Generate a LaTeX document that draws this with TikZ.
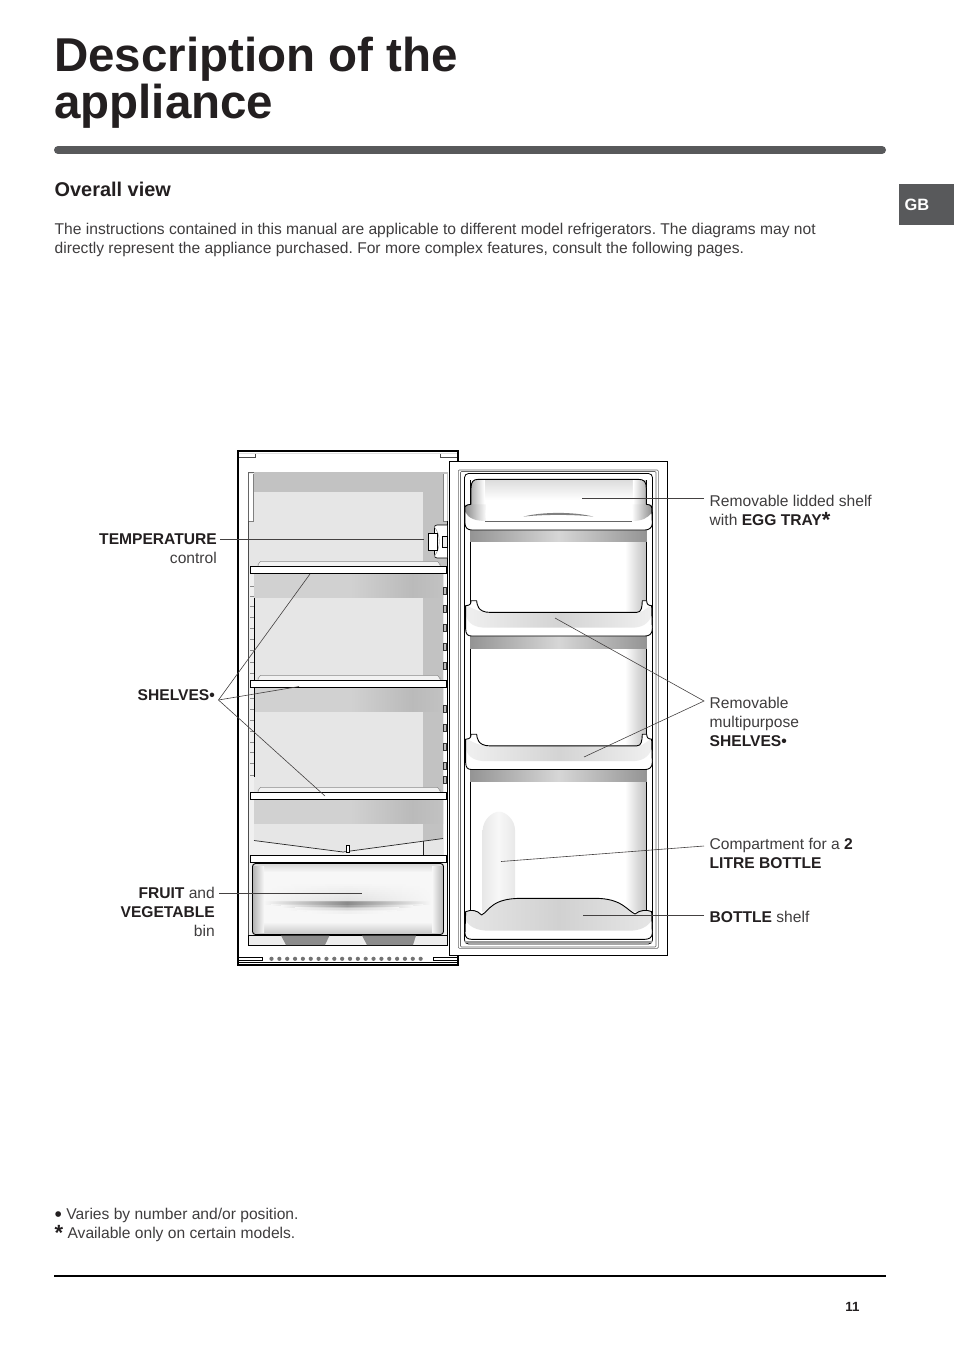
\documentclass[tikz,border=0pt]{standalone}
\usepackage{fontspec}
\setmainfont{Liberation Sans}
\definecolor{ink}{HTML}{231F20}
\definecolor{soft}{HTML}{3F3D3E}
\definecolor{bar}{HTML}{58595B}
\definecolor{wallA}{HTML}{E6E6E6}
\definecolor{wallB}{HTML}{C2C2C2}
\tikzset{
  x=1pt,y=-1pt,
  body/.style={font=\frenchspacing\fontsize{15.6}{19}\selectfont,text=soft,inner sep=0pt,align=left,anchor=north west},
  bodyr/.style={font=\fontsize{15.6}{19}\selectfont,text=soft,inner sep=0pt,align=right,anchor=north east},
  leader/.style={draw=ink!85,line width=0.6pt},
  shelfbar/.style={draw=black,line width=0.8pt,fill=white},
}
\newcommand{\lb}[1]{{\color{ink}\bfseries #1}}
\newcommand{\stk}{{\color{ink}\bfseries\raisebox{-2.2pt}{\fontsize{22}{22}\selectfont *}}}
% shelf of the cabinet: y of the top edge
\newcommand{\cabshelf}[1]{%
  \fill[wallA] (254,#1) rectangle (423,#1+114);
  \fill[wallB] (423,#1) rectangle (443,#1+114);
  \fill[black!18] (254,#1+7) rectangle (350,#1+31.5);
  \shade[left color=black!18,right color=black!27] (350,#1+7) rectangle (412,#1+31.5);
  \shade[left color=black!27,right color=black!24] (412,#1+7) rectangle (443,#1+31.5);
  \draw[black!45,fill=black!5,line width=0.5pt] (258,#1+0.3) -- (258,#1-2) to[out=-90,in=180] (261,#1-5) -- (437,#1-5) to[out=0,in=-90] (440,#1-2) -- (440,#1+0.3);
  \draw[shelfbar] (250.5,#1) rectangle (446.7,#1+7);
}
\newcommand{\shelfsil}{(62,15) .. controls (75,14) and (78,10) .. (78,0) -- (95,0) .. controls (96,10) and (97,35) .. (135,35) -- (575,35) .. controls (590,35) and (591,20) .. (592,0) -- (605,0) .. controls (606,10) and (608,14) .. (620,15) -- (622,85) .. controls (622,100) and (612,106) .. (600,106) -- (80,106) .. controls (68,106) and (62,100) .. (62,85) -- cycle}
\newcommand{\doorshelf}[1]{%
  \begin{scope}[shift={(445,#1)},x=0.3333pt,y=-0.3333pt]
   \shade[left color=black!42,right color=black!42,middle color=black!16] (75,106) rectangle (606,142);
   \fill[white] \shelfsil;
   \shade[left color=black!6,right color=black!6,middle color=black!17] (63,16) .. controls (75,14) and (90,35) .. (135,35) -- (575,35) .. controls (600,35) and (610,14) .. (619,16) -- (620,45) .. controls (610,70) and (590,81) .. (560,81) -- (125,81) .. controls (90,81) and (70,70) .. (63,45) -- cycle;
   \draw[black,line width=0.9pt,line join=round] \shelfsil;
  \end{scope}}
\begin{document}
\begin{tikzpicture}
\useasboundingbox (0,0) rectangle (954,1350);
\fill[white] (0,0) rectangle (954,1350);
% header
\node[anchor=north west,inner sep=0pt,font=\fontsize{47.5}{47}\bfseries\selectfont,text=ink,align=left] (title) at (54,36.5) {Description of the\\appliance};
\draw[bar,line width=8pt,line cap=round] (58,150) coordinate (ruleA) -- (882,150) coordinate (ruleB);
\node[anchor=west,inner sep=0pt,font=\fontsize{19.9}{20}\bfseries\selectfont,text=ink] (ov) at (54.5,189) {Overall view};
\node[body] (intro) at (54.5,223.2) {The instructions contained in this manual are applicable to different model refrigerators. The diagrams may not\\directly represent the appliance purchased. For more complex features, consult the following pages.};
\fill[bar] (899,184) rectangle (954,225);
\node[font=\fontsize{16.4}{16}\bfseries\selectfont,text=white,inner sep=0pt] (gb) at (917,204.5) {GB};

% ---------- cabinet
\draw[black,line width=1.6pt,fill=white] (238,451) rectangle (458,965);
\fill[black!12] (239,452.5) rectangle (457,454);
\draw[black!70,line width=0.5pt] (239,457.5) -- (255.5,457.5) -- (255.5,454);
\draw[black!70,line width=0.5pt] (457,457.5) -- (440.5,457.5) -- (440.5,454);
\draw[black!60,line width=0.6pt,fill=black!8] (248.5,472) -- (447.5,472) -- (447.5,945) -- (248.5,945) -- cycle;
\fill[wallB] (254,472) rectangle (447.5,566);
\fill[wallA] (249,521) rectangle (423,566);
\fill[wallA] (254,492) rectangle (423,566);
\fill[white] (249,474) rectangle (253.5,521);
\draw[black!50,line width=0.4pt] (253.5,474) -- (253.5,521) -- (249,521);
\fill[white] (443,474) rectangle (447,521);
\draw[black!50,line width=0.4pt] (443,474) -- (443,521) -- (447,521);
\cabshelf{566.3}
\cabshelf{680.3}
\cabshelf{792.3}
\fill[black!6] (249,573) rectangle (254,855);
\fill[white] (443.5,573) rectangle (447,855);
\draw[black,line width=0.8pt] (254.2,598) -- (254.2,777);
\draw[black!70,line width=0.6pt] (248.5,521) -- (248.5,945);
\draw[black,line width=0.9pt] (447.6,521) -- (447.6,945);
\foreach \yy in {586,596,606,617,628,639,650,662,673,698,709,720,731,742,752,763,775}
  \draw[black!45,line width=0.5pt] (250,\yy) -- (254,\yy);
\foreach \yy in {587,605,624,643,662,705,724,743,762,776}
  \draw[black!80,fill=black!25,line width=0.5pt] (443.5,\yy) rectangle (446.5,\yy+7);
\draw[shelfbar] (250.5,566.3) rectangle (446.7,573.3);
\draw[shelfbar] (250.5,680.3) rectangle (446.7,687.3);
\draw[shelfbar] (250.5,792.3) rectangle (446.7,799.3);
% compartment above bin
\fill[wallB] (423,824) rectangle (443,855);
\fill[wallA] (254,824) rectangle (423,842);
\fill[white!94!black] (254,840.5) -- (343,852) -- (423,841) -- (423,855) -- (254,855) -- cycle;
\fill[wallA] (423,841) -- (443,838.5) -- (443,855) -- (423,855) -- cycle;
\draw[black!85,line width=0.7pt] (254,840.5) -- (343,852) -- (443,838.5);
\draw[black!85,line width=0.7pt] (423.5,841) -- (423.5,855);
\draw[black,line width=0.7pt,fill=white] (346.5,845.5) rectangle (349.8,852.5);
\draw[shelfbar] (250,855) rectangle (446.7,862.7);
% bin
\fill[black!6] (249,863) rectangle (447,935);
\begin{scope}
\clip[rounded corners=3pt] (252.5,863.5) rectangle (443.5,934.5);
\fill[black!3] (252,863) rectangle (444,935);
\shade[top color=black!16,bottom color=black!3] (252,863.5) rectangle (444,872);
\foreach \yy/\d in {884/4,886/5,888/6,890/7,892/8,894/9,896/10,898/11,900/12}
  \shade[left color=black!3,right color=black!3,middle color=black!\d] (262,\yy) rectangle (434,\yy+2.2);
\foreach \yy/\d/\w in {901/38/84,902.5/46/84,904/46/76,905.5/38/66,907/26/52,908.5/15/60,910/10/50,911.5/6/40}
  \shade[left color=black!3,right color=black!3,middle color=black!\d] (347-\w,\yy) rectangle (347+\w,\yy+1.6);
\shade[top color=black!3,bottom color=black!24] (252,922) rectangle (444,935);
\shade[left color=black!30,right color=black!3] (252.5,866) rectangle (264,932);
\shade[left color=black!3,right color=black!30] (432,866) rectangle (443.5,932);
\end{scope}
\draw[black,line width=0.9pt,rounded corners=3pt] (252.5,863.5) rectangle (443.5,934.5);
% feet
\draw[black,line width=0.8pt,fill=black!7] (248.5,935.5) rectangle (447.5,945);
\fill[black!45] (281,935.5) -- (329.5,935.5) -- (325,945) -- (286,945) -- cycle;
\fill[black!45] (362,935.5) -- (416,935.5) -- (413,945) -- (367,945) -- cycle;
% bottom grille
\foreach \i in {0,...,19} \fill[black!55] (271.5+\i*7.85,958.8) circle (2.1);
\draw[black,line width=0.8pt] (238,957.5) -- (262.5,957.5) -- (262.5,960.3) -- (238,960.3);
\draw[black,line width=0.8pt] (458,957.5) -- (433.5,957.5) -- (433.5,960.3) -- (458,960.3);
\draw[black,line width=0.8pt] (238,962.5) -- (458,962.5);
\draw[black,line width=1.6pt] (237.2,965) -- (458.8,965);
% temperature knob
\draw[black,line width=0.6pt,fill=white] (447,525) -- (437,525) .. controls (435,525) and (434.5,526) .. (434.5,528) -- (434.5,554) .. controls (434.5,557) and (435,558) .. (437,558) -- (447,558);
\draw[black!50,line width=0.4pt] (434,527) .. controls (441,533) and (441,550) .. (434,556);
\draw[black,line width=0.7pt,fill=white] (428.5,533.5) rectangle (437.5,550.5);
\draw[black,line width=0.5pt,fill=black!8] (442.5,536) rectangle (447,547);

% ---------- door
\draw[black,line width=0.9pt,fill=white] (449.3,461.7) rectangle (667.5,955.7);
\draw[black!60,line width=0.6pt,rounded corners=1pt] (458.3,470) rectangle (658.3,948.3);
\draw[black!60,line width=0.6pt,rounded corners=1pt] (460.5,471.5) rectangle (656,947);
\draw[black,line width=0.8pt,rounded corners=4pt] (464.5,473.5) rectangle (652.5,944);
\fill[white] (470.5,475) rectangle (646.5,938);
\shade[left color=white,right color=black!25] (625,480) rectangle (646.5,920);
\draw[black,line width=0.9pt] (470.4,480) -- (470.4,925);
\draw[black,line width=0.9pt] (646.6,480) -- (646.6,925);
% bottle
\shade[left color=black!9,right color=black!9,middle color=black!3] (482.7,915) -- (482.7,830) .. controls (483,820) and (492,811.7) .. (499,811.7) .. controls (506,811.7) and (515,820) .. (515,830) -- (515,915) -- cycle;
\doorshelf{600.7}
\doorshelf{734.2}
% top shelf with lid
\begin{scope}[shift={(445,455)},x=0.3333pt,y=-0.3333pt]
 \shade[left color=black!42,right color=black!42,middle color=black!16] (75,225) rectangle (606,260);
 \begin{scope}
  \clip (78,148) -- (78,100) .. controls (78,80) and (85,73) .. (100,73) -- (580,73) .. controls (597,73) and (604,80) .. (604,100) -- (604,148) -- (622,150) -- (622,225) -- (60,225) -- (60,150) -- cycle;
  \fill[white] (55,70) rectangle (625,230);
  \shade[top color=black!14,bottom color=white] (78,73) rectangle (604,135);
  \fill[white] (110,135) rectangle (575,198);
  \shade[left color=black!30,right color=white] (78,73) rectangle (118,150);
  \shade[left color=white,right color=black!30] (564,73) rectangle (604,150);
  \shade[left color=black!45,right color=white] (60,148) -- (125,148) .. controls (120,170) and (120,190) .. (125,198) .. controls (90,198) and (70,190) .. (60,170) -- cycle;
  \shade[left color=white,right color=black!45] (622,148) -- (560,148) .. controls (565,170) and (565,190) .. (560,198) .. controls (590,198) and (610,190) .. (622,170) -- cycle;
 \end{scope}
 \draw[black,line width=0.9pt,line join=round] (78,148) -- (78,100) .. controls (78,80) and (85,73) .. (100,73) -- (580,73) .. controls (597,73) and (604,80) .. (604,100) -- (604,148);
 \draw[black,line width=0.9pt,line join=round] (78,148) .. controls (72,150) and (62,148) .. (60,155) -- (60,205) .. controls (60,218) and (68,225) .. (80,225) -- (600,225) .. controls (612,225) and (622,218) .. (622,205) -- (620,155) .. controls (618,148) and (610,150) .. (604,148);
 \draw[black!60,line width=0.4pt] (120,198) -- (560,198);
 \fill[black!50] (235,185) .. controls (290,170) and (390,170) .. (445,185) .. controls (390,178) and (290,178) .. (235,185);
\end{scope}
% bottle shelf
\begin{scope}[shift={(445,710)},x=0.3333pt,y=-0.3333pt]
 \fill[white] (62,605) -- (620,605) -- (622,670) .. controls (622,682) and (612,688) .. (600,688) -- (80,688) .. controls (68,688) and (60,682) .. (60,670) -- cycle;
 \shade[left color=black!10,right color=black!10,middle color=black!18] (62,605) .. controls (80,598) and (95,600) .. (110,615) .. controls (135,600) and (140,565) .. (230,565) -- (450,565) .. controls (530,565) and (545,600) .. (570,612) .. controls (585,600) and (605,598) .. (620,605) -- (620,630) .. controls (610,650) and (585,662) .. (555,662) -- (130,662) .. controls (95,662) and (72,650) .. (62,630) -- cycle;
 \draw[black,line width=0.9pt,line join=round] (60,670) -- (62,605) .. controls (80,598) and (95,600) .. (110,615) .. controls (135,600) and (140,565) .. (230,565) -- (450,565) .. controls (530,565) and (545,600) .. (570,612) .. controls (585,600) and (605,598) .. (620,605) -- (622,670) .. controls (622,682) and (612,688) .. (600,688) -- (80,688) .. controls (68,688) and (60,682) .. (60,670);
 \fill[black!40] (60,693) -- (620,693) -- (620,698) -- (60,698) -- cycle;
\end{scope}

% ---------- labels
\node[bodyr] (tc) at (217,533.7) {\lb{TEMPERATURE}\\control};
\node[bodyr] (sh) at (215,689.5) {\lb{SHELVES•}};
\node[bodyr] (fv) at (215,887) {\lb{FRUIT} and\\\lb{VEGETABLE}\\bin};
\node[body] (lid) at (709.5,494.7) {Removable lidded shelf\\with \lb{EGG TRAY}\stk};
\node[body] (ms) at (709.5,696.7) {Removable\\multipurpose\\\lb{SHELVES•}};
\node[body] (cb) at (709.5,837.7) {Compartment for a \lb{2}\\\lb{LITRE BOTTLE}};
\node[body] (bs) at (709.5,910.7) {\lb{BOTTLE} shelf};

% ---------- leaders
\coordinate (tcS) at (220,539.6); \coordinate (tcE) at (424,539.6);
\coordinate (shS) at (218.5,700); \coordinate (shA) at (310,574); \coordinate (shB) at (299,686.5); \coordinate (shC) at (325,796);
\coordinate (fvS) at (219,893); \coordinate (fvE) at (362,893);
\coordinate (lidS) at (704,498); \coordinate (lidE) at (582,498);
\coordinate (msS) at (704,701); \coordinate (msA) at (555,618); \coordinate (msB) at (584,757);
\coordinate (cbS) at (704,846); \coordinate (cbE) at (501,861.5);
\coordinate (bsS) at (704,915); \coordinate (bsE) at (583,915);
\draw[leader] (tcS) -- (tcE);
\draw[leader] (shA) -- (shS) -- (shC);
\draw[leader] (shS) -- (shB);
\draw[leader] (fvS) -- (fvE);
\draw[leader] (lidS) -- (lidE);
\draw[leader] (msA) -- (msS) -- (msB);
\draw[leader] (cbS) -- (cbE);
\draw[leader] (bsS) -- (bsE);

% ---------- footer
\node[body] (fn) at (54.5,1207.7) {{\color{ink}\fontsize{21}{19}\selectfont\raisebox{-2pt}{•}} Varies by number and/or position.\\\stk\ Available only on certain models.};
\draw[black,line width=1.4pt] (54,1276) coordinate (footA) -- (886,1276) coordinate (footB);
\node[font=\fontsize{13.3}{15}\bfseries\selectfont,text=ink,inner sep=0pt] (pg) at (852.5,1307) {11};
\end{tikzpicture}
\end{document}
